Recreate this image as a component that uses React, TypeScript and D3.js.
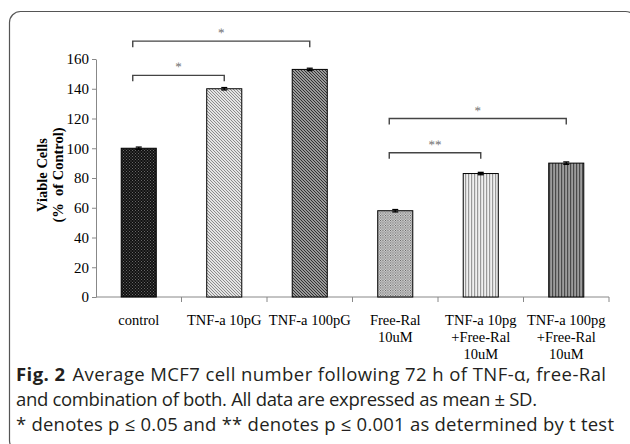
import React, { useRef, useEffect } from 'react'
import * as d3 from 'd3'

const categories = ['control', 'TNF-a 10pG', 'TNF-a 100pG', 'Free-Ral 10uM', 'TNF-a 10pg +Free-Ral 10uM', 'TNF-a 100pg +Free-Ral 10uM']
const labelLines = [['control'], ['TNF-a 10pG'], ['TNF-a 100pG'], ['Free-Ral', '10uM'], ['TNF-a 10pg', '+Free-Ral', '10uM'], ['TNF-a 100pg', '+Free-Ral', '10uM']]
const values = [100, 140, 153, 58, 83, 90]
const errors = [0.8, 0.8, 0.8, 0.8, 0.8, 0.8]
const yTicks = [0, 20, 40, 60, 80, 100, 120, 140, 160]
const fills = ['p-control', 'p-tnf10', 'p-tnf100', 'p-ral', 'p-combo10', 'p-combo100']

// significance brackets: from, to, level (% of control), label
const brackets = [
  { from: 0, to: 2, level: 172, label: '*' },
  { from: 0, to: 1, level: 149, label: '*' },
  { from: 3, to: 5, level: 120, label: '*' },
  { from: 3, to: 4, level: 97, label: '**' },
]

const captionLines = [
  'Average MCF7 cell number following 72 h of TNF-α, free-Ral',
  'and combination of both. All data are expressed as mean ± SD.',
  '* denotes p ≤ 0.05 and ** denotes p ≤ 0.001 as determined by t test',
]

function App() {
  const svgRef = useRef(null)

  useEffect(() => {
    const svg = d3.select(svgRef.current)
    svg.selectAll('*').remove()

    const defs = svg.append('defs')

    // bar fill patterns
    const dots = (id, bg, fg, size) => {
      const p = defs.append('pattern').attr('id', id).attr('width', size).attr('height', size).attr('patternUnits', 'userSpaceOnUse')
      p.append('rect').attr('width', size).attr('height', size).attr('fill', bg)
      p.append('rect').attr('width', 1).attr('height', 1).attr('fill', fg)
      p.append('rect').attr('x', size / 2).attr('y', size / 2).attr('width', 1).attr('height', 1).attr('fill', fg)
    }
    const diag = (id, bg, fg) => {
      const p = defs.append('pattern').attr('id', id).attr('width', 3).attr('height', 3).attr('patternUnits', 'userSpaceOnUse')
      p.append('rect').attr('width', 3).attr('height', 3).attr('fill', bg)
      p.append('path').attr('d', 'M-1,-1L4,4M-1,2L1,4M2,-1L4,1').attr('stroke', fg).attr('stroke-width', 1)
    }
    const vert = (id, bg, fg) => {
      const p = defs.append('pattern').attr('id', id).attr('width', 3).attr('height', 3).attr('patternUnits', 'userSpaceOnUse')
      p.append('rect').attr('width', 3).attr('height', 3).attr('fill', bg)
      p.append('rect').attr('width', 1.2).attr('height', 3).attr('fill', fg)
    }
    dots('p-control', '#111', '#666', 3)
    diag('p-tnf10', '#e4e4e4', '#8a8a8a')
    diag('p-tnf100', '#9a9a9a', '#333')
    dots('p-ral', '#d8d8d8', '#555', 2.5)
    vert('p-combo10', '#f0f0f0', '#999')
    vert('p-combo100', '#9c9c9c', '#4a4a4a')

    // frame
    svg.append('rect')
      .attr('x', 9.5).attr('y', 11.5)
      .attr('width', 627).attr('height', 440)
      .attr('rx', 11)
      .attr('fill', 'none').attr('stroke', '#555').attr('stroke-width', 1.2)

    const xScale = d3.scaleBand()
      .domain(categories)
      .range([96, 609])
      .paddingInner(0.59)
      .paddingOuter(0.295)

    const yScale = d3.scaleLinear()
      .domain([0, 160])
      .range([297, 59])

    const serif = "'Liberation Serif', 'Times New Roman', serif"

    // y axis
    const yAxis = svg.append('g')
      .attr('transform', 'translate(96,0)')
      .call(d3.axisLeft(yScale).tickValues(yTicks).tickSize(4).tickSizeOuter(0))
    yAxis.select('.domain').attr('stroke', '#888')
    yAxis.selectAll('.tick line').attr('stroke', '#888')
    yAxis.selectAll('.tick text')
      .attr('font-family', serif).attr('font-size', 15).attr('fill', '#000').attr('x', -7)

    // x axis
    const xAxis = svg.append('g')
      .attr('transform', `translate(0,${yScale(0)})`)
    xAxis.append('line')
      .attr('x1', 96).attr('x2', 609)
      .attr('stroke', '#888')
    xAxis.selectAll('line.sep')
      .data(categories)
      .enter()
      .append('line')
      .attr('class', 'sep')
      .attr('x1', d => xScale(d) + xScale.bandwidth() + xScale.step() * 0.295)
      .attr('x2', d => xScale(d) + xScale.bandwidth() + xScale.step() * 0.295)
      .attr('y1', 0).attr('y2', 5)
      .attr('stroke', '#888')

    const labels = svg.append('g')
    labelLines.forEach((lines, i) => {
      const cx = xScale(categories[i]) + xScale.bandwidth() / 2
      const t = labels.append('text')
        .attr('text-anchor', 'middle')
        .attr('font-family', serif)
        .attr('font-size', 14.5)
        .attr('fill', '#000')
      lines.forEach((l, j) => {
        t.append('tspan').attr('x', cx).attr('y', 325 + j * 17).text(l)
      })
    })

    // y title
    const yt = svg.append('text')
      .attr('transform', 'translate(0,175) rotate(-90)')
      .attr('text-anchor', 'middle')
      .attr('font-family', serif)
      .attr('font-weight', 'bold')
      .attr('font-size', 14.5)
      .attr('fill', '#000')
    yt.append('tspan').attr('x', 0).attr('y', 47).text('Viable Cells')
    yt.append('tspan').attr('x', 0).attr('y', 63).attr('xml:space', 'preserve').text('(%  of Control)')

    // bars
    svg.append('g')
      .selectAll('rect')
      .data(values)
      .enter()
      .append('rect')
      .attr('x', (d, i) => xScale(categories[i]))
      .attr('y', d => yScale(d))
      .attr('width', xScale.bandwidth())
      .attr('height', d => yScale(0) - yScale(d))
      .attr('fill', (d, i) => `url(#${fills[i]})`)
      .attr('stroke', '#000')
      .attr('stroke-width', 1)

    // error bars
    const eb = svg.append('g').attr('stroke', '#000').attr('stroke-width', 1.3)
    values.forEach((v, i) => {
      const cx = xScale(categories[i]) + xScale.bandwidth() / 2
      eb.append('line').attr('x1', cx).attr('x2', cx).attr('y1', yScale(v + errors[i])).attr('y2', yScale(v - errors[i]))
      eb.append('line').attr('x1', cx - 3).attr('x2', cx + 3).attr('y1', yScale(v + errors[i])).attr('y2', yScale(v + errors[i]))
      eb.append('line').attr('x1', cx - 3).attr('x2', cx + 3).attr('y1', yScale(v - errors[i])).attr('y2', yScale(v - errors[i]))
    })

    // brackets
    const bg = svg.append('g')
    brackets.forEach(b => {
      const x1 = xScale(categories[b.from]) + xScale.bandwidth() / 2 - 6
      const x2 = xScale(categories[b.to]) + xScale.bandwidth() / 2
      const y = yScale(b.level)
      bg.append('path')
        .attr('d', `M${x1},${y + 6}V${y}H${x2}V${y + 6}`)
        .attr('fill', 'none').attr('stroke', '#444').attr('stroke-width', 1.4)
      bg.append('text')
        .attr('x', (x1 + x2) / 2).attr('y', y - 4)
        .attr('text-anchor', 'middle')
        .attr('font-family', serif)
        .attr('font-size', 13)
        .attr('fill', '#777')
        .style('text-rendering', 'geometricPrecision')
        .text(b.label)
    })

    // caption
    const cap = svg.append('g')
      .attr('font-family', "'Open Sans', sans-serif")
      .attr('font-size', 18.5)
      .attr('fill', '#231f20')
    const first = cap.append('text').attr('x', 16).attr('y', 381).attr('textLength', 590).attr('lengthAdjust', 'spacing')
    first.append('tspan').attr('font-weight', 'bold').text('Fig. 2')
    first.append('tspan').attr('dx', 7).text(captionLines[0])
    cap.append('text').attr('x', 16).attr('y', 406).attr('textLength', 521).attr('lengthAdjust', 'spacing').text(captionLines[1])
    cap.append('text').attr('x', 16).attr('y', 431).attr('textLength', 598).attr('lengthAdjust', 'spacing').text(captionLines[2])
  }, [])

  return (
    <svg ref={svgRef} width={630} height={444}
      style={{ position: 'absolute', left: 0, top: 0, background: '#fff' }} />
  )
}

export default App
